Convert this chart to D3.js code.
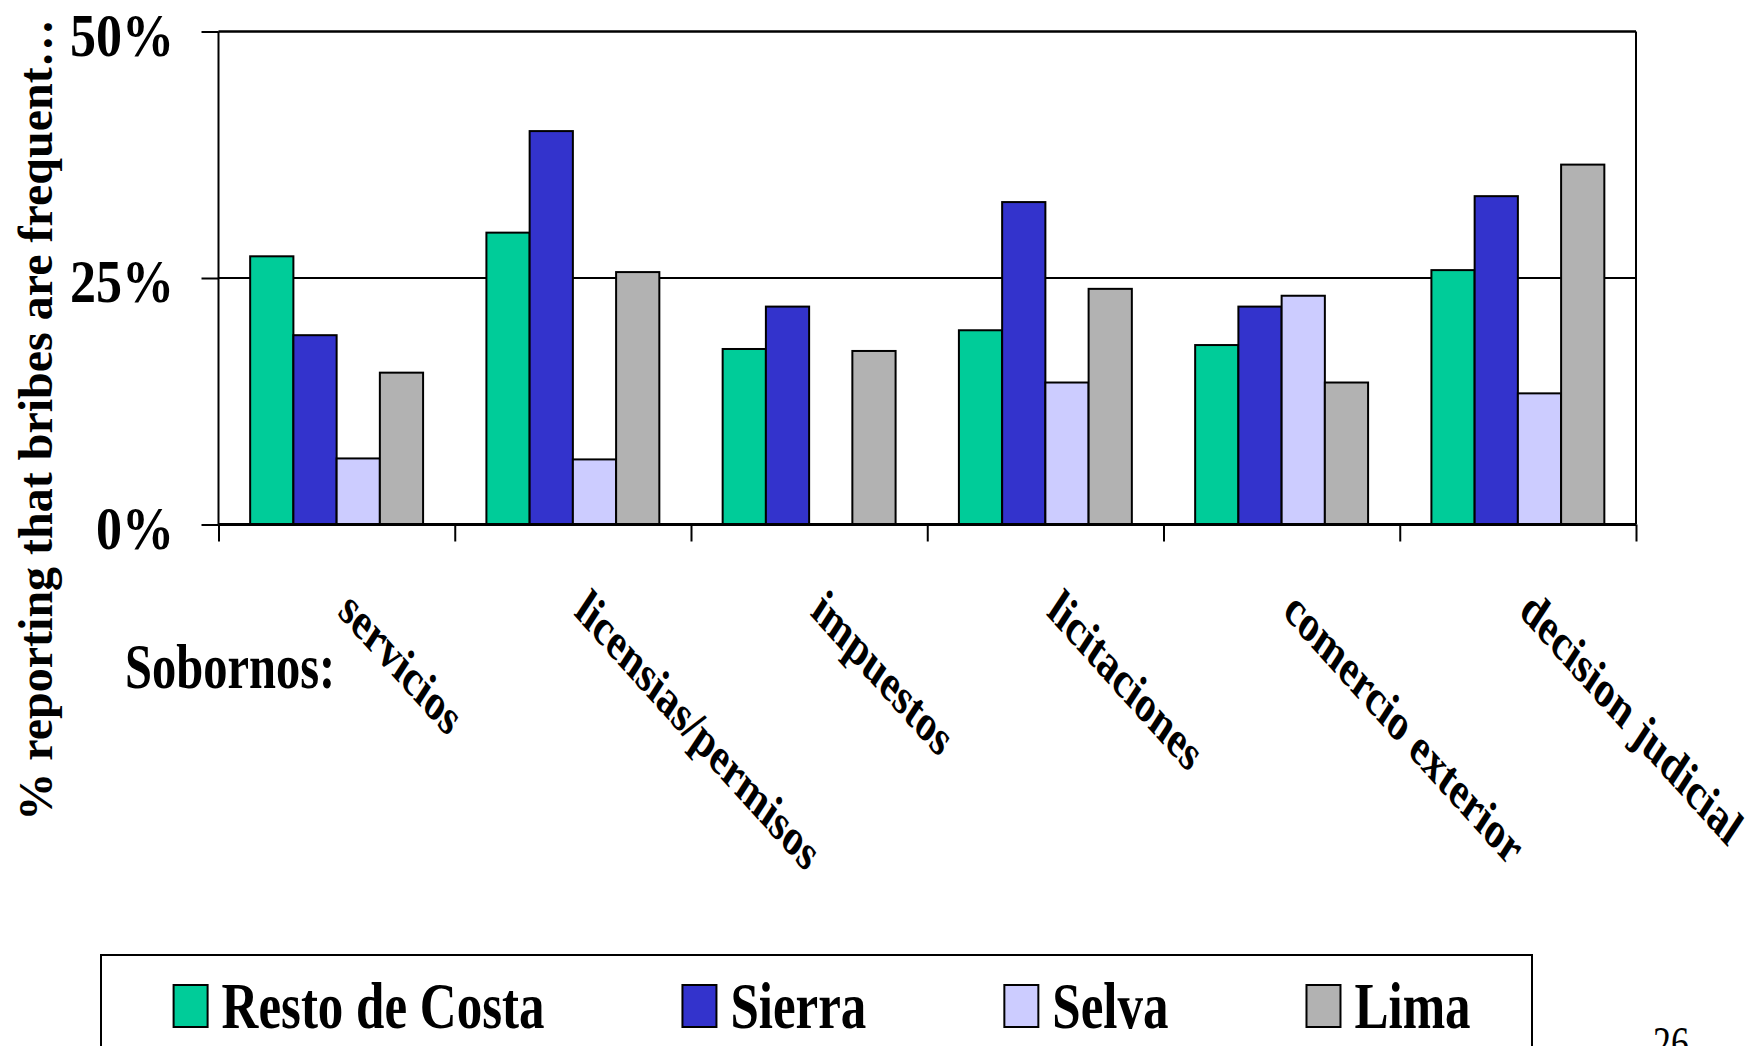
<!DOCTYPE html>
<html>
<head>
<meta charset="utf-8">
<script src="https://cdn.jsdelivr.net/npm/d3@7"></script>
<style>
  html, body { margin: 0; padding: 0; background: #fff; overflow: hidden; }
  svg { display: block; }
  text { font-family: "Liberation Serif", "Times New Roman", serif; }
</style>
</head>
<body>
<script>
// ---- data ----
const categories = ["servicios", "licensias/permisos", "impuestos", "licitaciones", "comercio exterior", "decision judicial"];
const seriesNames = ["Resto de Costa", "Sierra", "Selva", "Lima"];
const restoDeCosta = [27.2, 29.6, 17.8, 19.7, 18.2, 25.8];
const sierra       = [19.2, 39.9, 22.1, 32.7, 22.1, 33.3];
const selva        = [6.7, 6.6, null, 14.4, 23.2, 13.3];
const lima         = [15.4, 25.6, 17.6, 23.9, 14.4, 36.5];
const seriesColors = ["#00CC99", "#3333CC", "#CCCCFF", "#B2B2B2"];
const yTicks = [0, 25, 50];
const yTickLabels = ["0%", "25%", "50%"];
const yTitle = "% reporting that bribes are frequent\u2026";
const groupLabel = "Sobornos:";
const pageNumber = "26";

const seriesValues = [restoDeCosta, sierra, selva, lima];

// ---- layout ----
const W = 1756, H = 1046;
const plotLeft = 218.5, plotRight = 1636, plotTop = 31.5, plotBottom = 524.5;
const K = 1.3; // vertical stretch of text seen in the reference

const svg = d3.select("body").append("svg").attr("width", W).attr("height", H);

const x0 = d3.scaleBand().domain(categories).range([plotLeft, plotRight])
  .paddingInner(0.268).paddingOuter(0.134);
const x1 = d3.scaleBand().domain(seriesNames).range([0, x0.bandwidth()]);
const y = d3.scaleLinear().domain([0, 50]).range([plotBottom, plotTop]);

// gridlines (25%, 50%)
svg.append("g").selectAll("line").data(yTicks.filter(d => d > 0)).join("line")
  .attr("x1", plotLeft).attr("x2", plotRight)
  .attr("y1", d => y(d)).attr("y2", d => y(d))
  .attr("stroke", "#000").attr("stroke-width", d => d === 50 ? 2.6 : 2);

// right border
svg.append("line").attr("x1", plotRight).attr("x2", plotRight)
  .attr("y1", y(50)).attr("y2", y(0)).attr("stroke", "#000").attr("stroke-width", 2);

// bars
const rows = [];
categories.forEach((c, i) => {
  seriesNames.forEach((s, j) => {
    const v = seriesValues[j][i];
    if (v !== null && v !== undefined) rows.push({ c, s, v, color: seriesColors[j] });
  });
});
svg.append("g").selectAll("rect").data(rows).join("rect")
  .attr("x", d => x0(d.c) + x1(d.s))
  .attr("y", d => y(d.v))
  .attr("width", x1.bandwidth())
  .attr("height", d => y(0) - y(d.v))
  .attr("fill", d => d.color)
  .attr("stroke", "#000").attr("stroke-width", 2);

// left axis
const yAxis = d3.axisLeft(y).tickValues(yTicks).tickSize(17).tickFormat("");
const gy = svg.append("g").attr("transform", `translate(${plotLeft},0)`).call(yAxis);
gy.select(".domain").attr("stroke-width", 2).attr("d", `M0,${y(50)}V${y(0)}`);
gy.selectAll(".tick line").attr("stroke-width", 2);

// bottom axis with ticks at category boundaries
const half = (x0.step() - x0.bandwidth()) / 2;
const bounds = categories.map(c => x0(c) - half).concat([plotRight]);
const xb = d3.scaleLinear().domain([plotLeft, plotRight]).range([plotLeft, plotRight]);
const xAxis = d3.axisBottom(xb).tickValues(bounds).tickSize(17).tickFormat("");
const gx = svg.append("g").attr("transform", `translate(0,${plotBottom})`).call(xAxis);
gx.select(".domain").attr("stroke-width", 3).attr("d", `M${plotLeft},0H${plotRight}`);
gx.selectAll(".tick line").attr("stroke-width", 2);

// y tick labels
svg.append("g").selectAll("text").data(yTicks).join("text")
  .attr("transform", d => `translate(174,${y(d) + 24}) scale(1,1.19)`)
  .attr("text-anchor", "end")
  .attr("font-size", 52).attr("font-weight", "bold")
  .text((d, i) => yTickLabels[i]);

// y title
svg.append("text")
  .attr("transform", `translate(52,420) rotate(-90)`)
  .attr("text-anchor", "middle")
  .attr("font-size", 48).attr("font-weight", "bold")
  .text(yTitle);

// category labels (rotated)
svg.append("g").selectAll("text").data(categories).join("text")
  .attr("transform", d => `translate(${x0(d) + x0.bandwidth() / 2},614) scale(1,${K}) rotate(40.5)`)
  .attr("text-anchor", "start")
  .attr("font-size", 40).attr("font-weight", "bold")
  .text(d => d);

// "Sobornos:"
svg.append("text")
  .attr("transform", `translate(125,688) scale(1,${K})`)
  .attr("font-size", 48.5).attr("font-weight", "bold")
  .text(groupLabel);

// legend
svg.append("rect").attr("x", 101).attr("y", 955).attr("width", 1431).attr("height", 150)
  .attr("fill", "none").attr("stroke", "#000").attr("stroke-width", 2);
let lx = 173.6;
seriesNames.forEach((s, j) => {
  const g = svg.append("g");
  g.append("rect").attr("x", lx).attr("y", 985).attr("width", 34).attr("height", 42)
    .attr("fill", seriesColors[j]).attr("stroke", "#000").attr("stroke-width", 2);
  const t = g.append("text")
    .attr("transform", `translate(${lx + 48},1028) scale(1,${K})`)
    .attr("font-size", 51).attr("font-weight", "bold")
    .text(s);
  lx += 48 + t.node().getComputedTextLength() + 138;
});

// page number
svg.append("text")
  .attr("transform", `translate(1653,1059) scale(1,${K})`)
  .attr("font-size", 36)
  .text(pageNumber);
</script>
</body>
</html>
